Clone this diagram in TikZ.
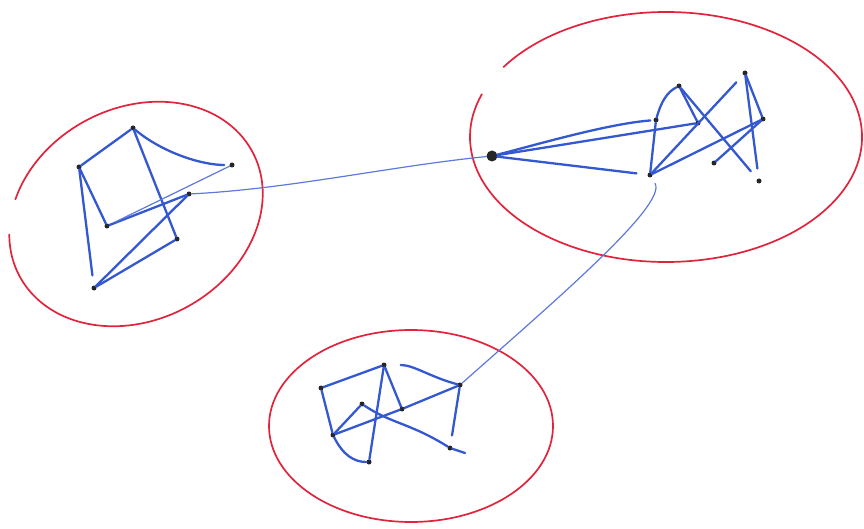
\documentclass[tikz,border=0pt]{standalone}
\usepackage{xcolor}
\usepackage{tikz}
\usetikzlibrary{arrows.meta}

\definecolor{pen}{RGB}{52,88,208}
\definecolor{ink}{RGB}{225,35,60}
\tikzset{
  dot/.style={circle,fill=black!85,inner sep=0pt,minimum size=5pt},
  hub/.style={circle,fill=black!85,inner sep=0pt,minimum size=11pt},
  link/.style={pen,line width=2.3pt,line cap=round},
  thin link/.style={pen!80!white,line width=1.2pt,line cap=round},
  blob/.style={ink,line width=1.7pt,line cap=round},
}

\begin{document}
\begin{tikzpicture}[x=1pt,y=-1pt]
\useasboundingbox (0,0) rectangle (864,529);
% the three red rings
\draw[blob,shift={(136,214)},rotate=28](221:132 and 106) arc[start angle=221,end angle=563,x radius=132,y radius=106];
\draw[blob,shift={(666,137)}](214:196 and 125) arc[start angle=214,end angle=560,x radius=196,y radius=125];
\draw[blob](411,426) ellipse[x radius=142,y radius=96];
% left group
\node[dot](a1) at (133,128){};
\node[dot](a2) at (79,167){};
\node[dot](a3) at (232,165){};
\node[dot](a4) at (189,194){};
\node[dot](a5) at (107,226){};
\node[dot](a6) at (177,239){};
\node[dot](a7) at (94,288){};
% right group
\node[hub](h) at (492,156){};
\node[dot](b1) at (656,120){};
\node[dot](b2) at (679,86){};
\node[dot](b3) at (698,123){};
\node[dot](b4) at (745,73){};
\node[dot](b5) at (763,119){};
\node[dot](b6) at (650,175){};
\node[dot](b7) at (714,163){};
\node[dot](b8) at (759,181){};
% lower group
\node[dot](c1) at (321,388){};
\node[dot](c2) at (384,365){};
\node[dot](c3) at (362,404){};
\node[dot](c4) at (402,409){};
\node[dot](c5) at (460,385){};
\node[dot](c6) at (333,435){};
\node[dot](c7) at (369,462){};
\node[dot](c8) at (450,448){};

\draw[link](a2)--(a1);
\draw[link,shorten >=5pt](a1).. controls +(30,25) and +(-30,0) ..(a3);
\draw[link](a1)--(a6);
\draw[link](a2)--(a5);
\draw[link,shorten >=10pt](a2)--(a7);
\draw[link](a5)--(a4);
\draw[thin link,shorten >=6pt](a3)--(a5);
\draw[link](a4)--(a7);
\draw[link](a6)--(a7);

\draw[link,shorten >=3pt](h).. controls +(40,-10) and +(-50,4) ..(b1);
\draw[link](h)--(b3);
\draw[link,shorten >=11pt](h)--(b6);
\draw[link](b1).. controls +(5,-18) and +(-12,6) ..(b2);
\draw[link](b2)--(b3);
\draw[link](b1)--(b6);
\draw[link,shorten >=10pt](b2)--(b8);
\draw[link,shorten >=10pt](b6)--(b4);
\draw[link](b6)--(b5);
\draw[link](b4)--(b5);
\draw[link,shorten >=10pt](b4)--(b8);
\draw[link](b5)--(b7);

\draw[thin link](a4).. controls +(100,-5) and +(-100,10) ..(h);
\draw[thin link,shorten <=7pt](b6).. controls +(18,30) and +(90,-80) ..(c5);

\draw[link](c1)--(c2);
\draw[link](c1)--(c6);
\draw[link](c2)--(c7);
\draw[link](c2)--(c4);
\draw[link](c6).. controls +(10,20) and +(-15,0) ..(c7);
\draw[link](c6)--(c3);
\draw[link](c3).. controls +(30,20) and +(-40,-25) ..(c8)--++(15,5);
\draw[link](c6)--(c4);
\draw[link](c4)--(c5);
\draw[link,shorten <=14pt](c2).. controls +(30,0) and +(-30,-8) ..(c5);
\draw[link,shorten >=10pt](c5)--(c8);
\end{tikzpicture}
\end{document}
